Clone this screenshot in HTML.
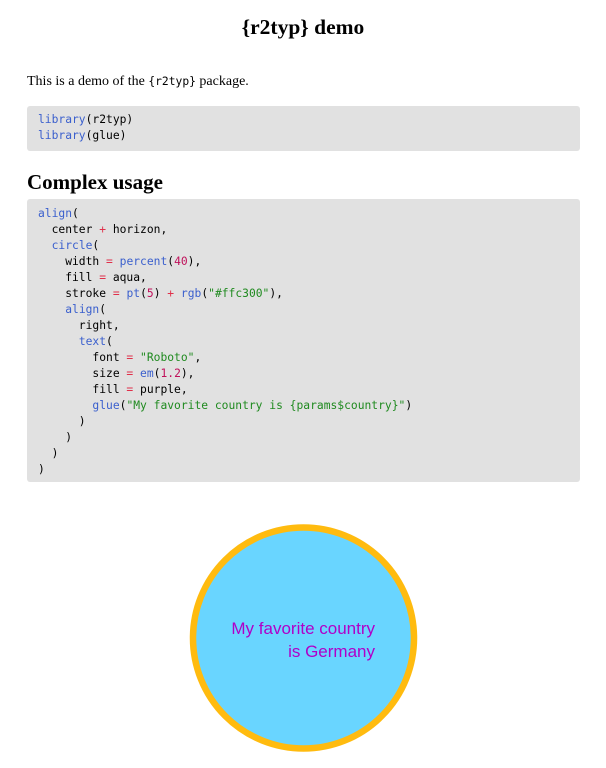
<!DOCTYPE html>
<html><head><meta charset="utf-8"><style>
html,body{margin:0;padding:0;background:#fff;width:606px;height:768px;overflow:hidden;position:relative}
.s{font-family:"Liberation Serif",serif;color:#000;position:absolute;white-space:nowrap}
.code{position:absolute;left:27px;width:553px;background:#e1e1e1;border-radius:3px;font-family:"DejaVu Sans Mono",monospace;font-size:11.3px;line-height:16px;white-space:pre;color:#000;box-sizing:border-box;padding:0 11px}
.f{color:#3a5fcd}.o{color:#e0304a}.n{color:#c0105a}.st{color:#1f8a1f}
</style></head><body>
<div class="s" style="left:0;width:606px;text-align:center;top:15px;font-size:21.5px;font-weight:bold">{r2typ} demo</div>
<div class="s" style="left:27px;top:74px;font-size:14px">This is a demo of the <span style="font-family:'DejaVu Sans Mono',monospace;font-size:11.3px">{r2typ}</span> package.</div>
<div class="code" style="top:106px;height:45px;padding-top:6px"><span class="f">library</span>(r2typ)
<span class="f">library</span>(glue)</div>
<div class="s" style="left:27px;top:170px;font-size:21px;font-weight:bold">Complex usage</div>
<div class="code" style="top:199px;height:283px;padding-top:7px"><span class="f">align</span>(
  center <span class="o">+</span> horizon,
  <span class="f">circle</span>(
    width <span class="o">=</span> <span class="f">percent</span>(<span class="n">40</span>),
    fill <span class="o">=</span> aqua,
    stroke <span class="o">=</span> <span class="f">pt</span>(<span class="n">5</span>) <span class="o">+</span> <span class="f">rgb</span>(<span class="st">"#ffc300"</span>),
    <span class="f">align</span>(
      right,
      <span class="f">text</span>(
        font <span class="o">=</span> <span class="st">"Roboto"</span>,
        size <span class="o">=</span> <span class="f">em</span>(<span class="n">1.2</span>),
        fill <span class="o">=</span> purple,
        <span class="f">glue</span>(<span class="st">"My favorite country is {params$country}"</span>)
      )
    )
  )
)</div>
<svg style="position:absolute;left:0;top:0" width="606" height="768">
<circle cx="303.5" cy="638" r="110.5" fill="#69d5ff" stroke="#ffbb0f" stroke-width="6.5"/>
<text x="375" y="634" text-anchor="end" font-family="Liberation Sans, sans-serif" font-size="17" fill="#b000c8">My favorite country</text>
<text x="375" y="657" text-anchor="end" font-family="Liberation Sans, sans-serif" font-size="17" fill="#b000c8">is Germany</text>
</svg>
</body></html>
